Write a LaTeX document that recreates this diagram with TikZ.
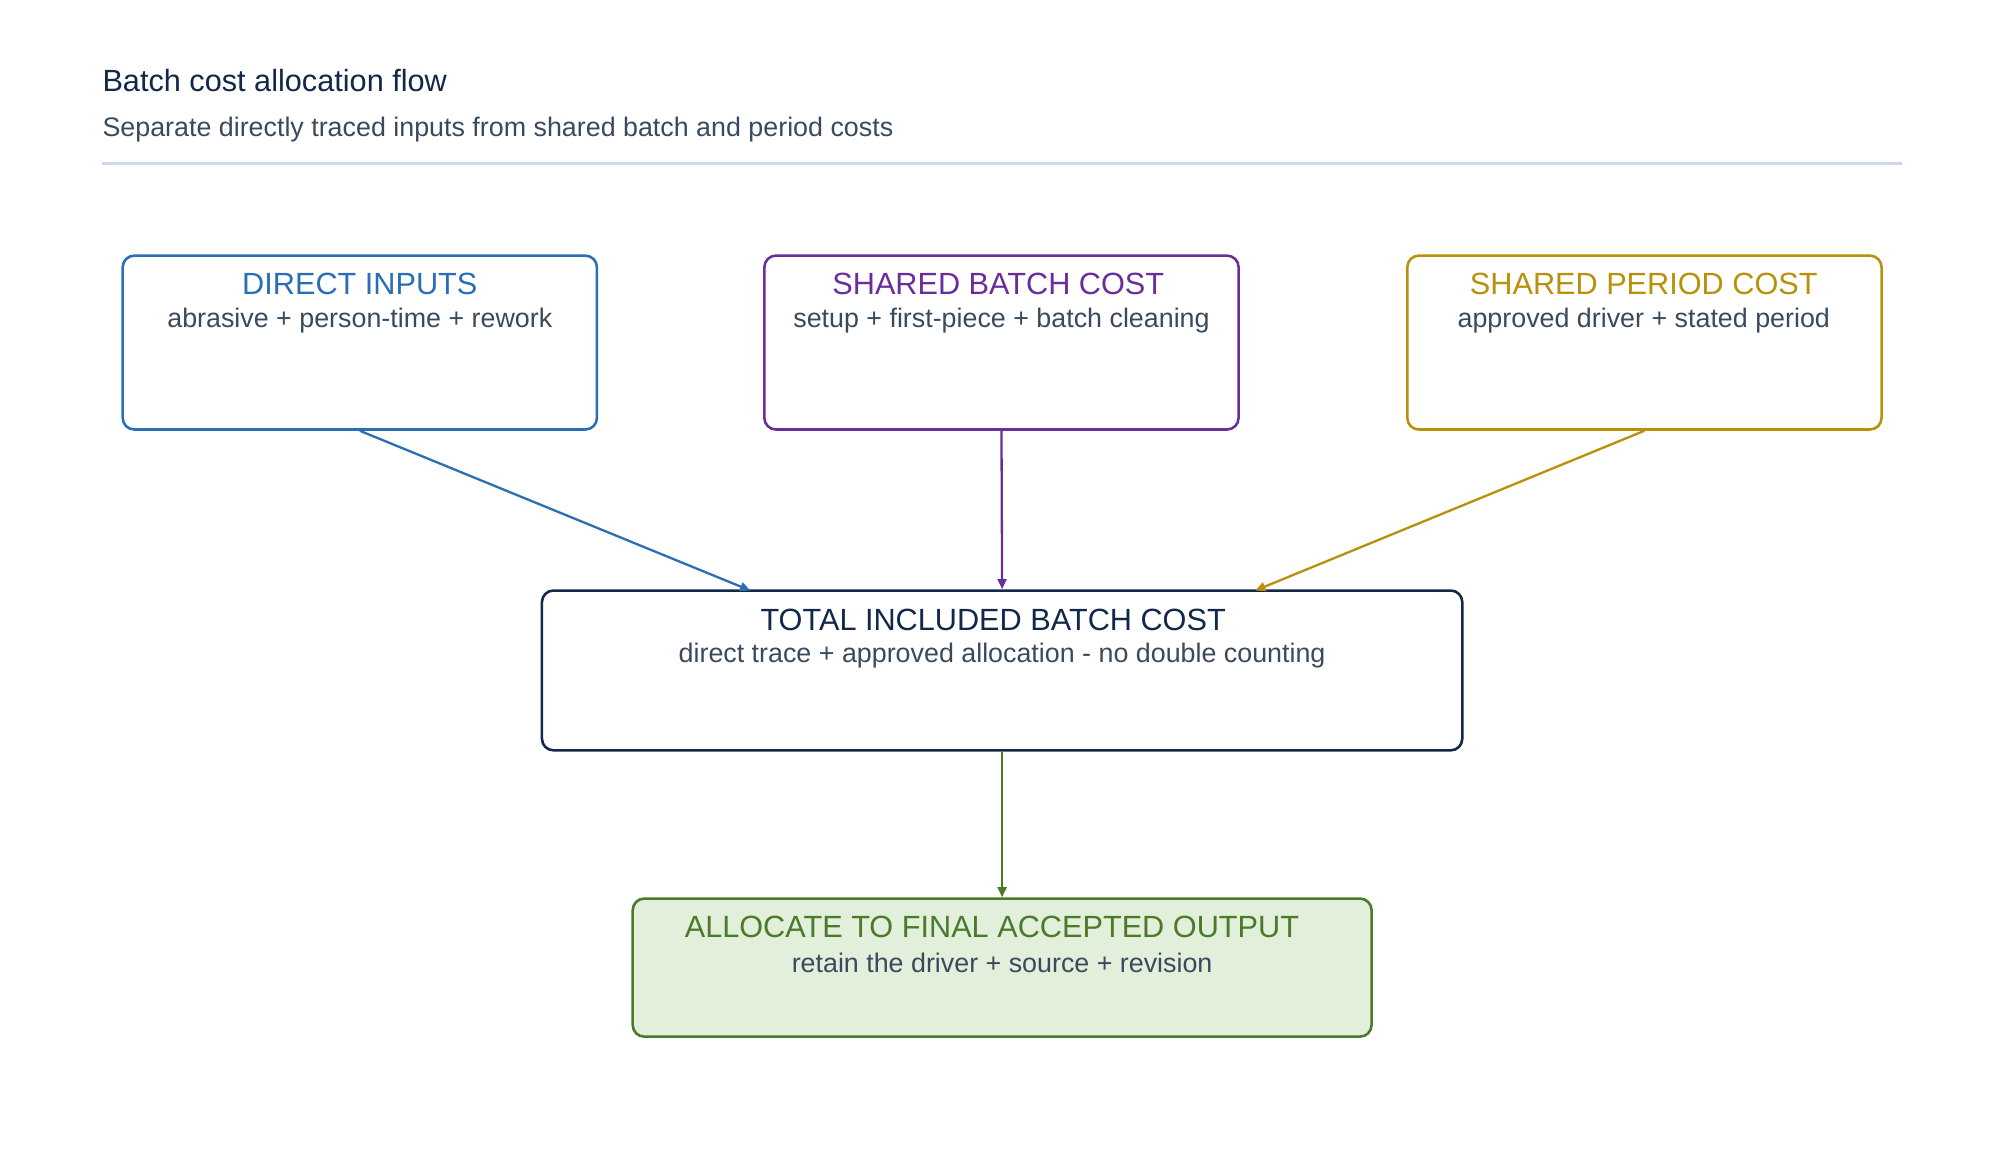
\documentclass[tikz,border=0pt]{standalone}
\usepackage{fontspec}
\setmainfont{Liberation Sans}
\usetikzlibrary{positioning,arrows.meta}
\definecolor{cblue}{HTML}{2A6EB5}
\definecolor{cpurple}{HTML}{6B2D9A}
\definecolor{cgold}{HTML}{B8900A}
\definecolor{cnavy}{HTML}{12284A}
\definecolor{cgreen}{HTML}{4A7A2A}
\definecolor{cfill}{HTML}{E2EFDA}
\definecolor{ctext}{HTML}{3A4A5E}
\definecolor{crule}{HTML}{D0D8F0}
\tikzset{
  box/.style={draw, line width=2pt, rounded corners=9pt, inner sep=0pt},
  head/.style={font=\fontsize{24}{26}\selectfont, inner sep=0pt, anchor=center},
  body/.style={font=\fontsize{21}{24}\selectfont, text=ctext, inner sep=0pt, anchor=center},
  flow/.style={line width=1.8pt, -{Triangle[length=8pt,width=7pt]}}
}
\begin{document}
\begin{tikzpicture}[x=1pt, y=-1pt]
		\useasboundingbox (0,0) rectangle (1560,908);

		% Heading
		\node[anchor=west, font=\fontsize{24}{26}\selectfont, text=cnavy, inner sep=0pt] (title) at (80,63) {Batch cost allocation flow};
		\node[anchor=west, font=\fontsize{21}{24}\selectfont, text=ctext, inner sep=0pt] (subtitle) at (80,101) {Separate directly traced inputs from shared batch and period costs};
		\draw[crule, line width=2pt] (80,128) -- (1488,128);

		% Source boxes
		\node[box, cblue, minimum width=371pt, minimum height=136pt] (direct) at (281.5,268) {};
		\node[head, text=cblue] (directhead) at (281.5,222) {DIRECT INPUTS};
		\node[body] (directbody) at (281.5,251) {abrasive + person-time + rework};

		\node[box, cpurple, minimum width=371pt, minimum height=136pt] (batch) at (783.5,268) {};
		\node[head, text=cpurple] (batchhead) at (781,222) {SHARED BATCH COST};
		\node[body] (batchbody) at (783.5,251) {setup + first-piece + batch cleaning};

		\node[box, cgold, minimum width=371pt, minimum height=136pt] (period) at (1286.5,268) {};
		\node[head, text=cgold] (periodhead) at (1286,222) {SHARED PERIOD COST};
		\node[body] (periodbody) at (1286,251) {approved driver + stated period};

		% Total box
		\node[box, cnavy, minimum width=720pt, minimum height=125pt] (total) at (784,524.5) {};
		\node[head, text=cnavy] (totalhead) at (777,485) {TOTAL INCLUDED BATCH COST};
		\node[body] (totalbody) at (784,513) {direct trace + approved allocation - no double counting};

		% Allocation box
		\node[box, cgreen, fill=cfill, minimum width=578pt, minimum height=108pt] (alloc) at (784,757) {};
		\node[head, text=cgreen] (allochead) at (776,725) {ALLOCATE TO FINAL ACCEPTED OUTPUT};
		\node[body] (allocbody) at (784,753) {retain the driver + source + revision};

		% Connectors
		\coordinate (totalleft) at (587,462);
		\coordinate (totalright) at (982,462);
		\draw[flow, cblue] (direct.south) -- (totalleft);
		\draw[flow, cpurple] (batch.south) -- (total.north);
		\draw[flow, cgold] (period.south) -- (totalright);
		\draw[flow, cgreen] (total.south) -- (alloc.north);
	\end{tikzpicture}
\end{document}
